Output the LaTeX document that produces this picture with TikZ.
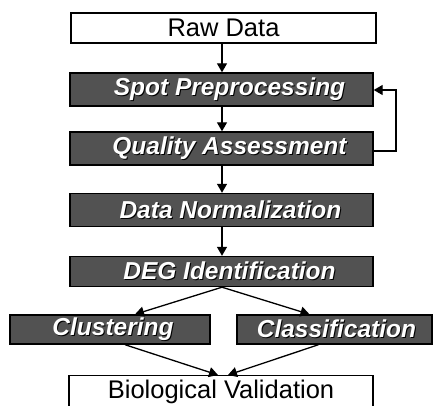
\documentclass[tikz,border=0pt]{standalone}
\usepackage{fontspec}
\setmainfont{Liberation Sans}
\usetikzlibrary{arrows.meta,positioning}
% white label with a thin dark drop shadow
\newcommand\shadowtxt[1]{\makebox[0pt][l]{\hspace{1pt}\raisebox{-1pt}{\color{black}#1}}#1}
\tikzset{
  x=1pt, y=-1pt,
  plainbox/.style={draw=black, line width=1.4pt, fill=white, inner sep=0pt,
    font=\fontsize{25.5}{28}\selectfont, text=black},
  darkbox/.style={draw=black, line width=1.4pt, fill=black!68, inner sep=0pt,
    font=\fontsize{24.5}{28}\selectfont\bfseries\itshape, text=white},
  flow/.style={draw=black, line width=1.3pt,
    -{Triangle[width=10pt,length=9pt]}},
}
\begin{document}
\begin{tikzpicture}
\useasboundingbox (0,0) rectangle (437,405);
% main pipeline
\node[plainbox, minimum width=305pt, minimum height=30pt] (raw) at (223.5,28) {Raw Data};
\node[darkbox, minimum width=303pt, minimum height=33pt] (spot) at (221.5,89.5) {\hspace*{16pt}\shadowtxt{Spot Preprocessing}};
\node[darkbox, minimum width=303pt, minimum height=33pt] (qa) at (221.5,148.5) {\hspace*{16pt}\shadowtxt{Quality Assessment}};
\node[darkbox, minimum width=303pt, minimum height=33pt] (norm) at (221.5,210) {\hspace*{18pt}\shadowtxt{Data Normalization}};
\node[darkbox, minimum width=303pt, minimum height=30pt] (deg) at (221.5,271.5) {\hspace*{16pt}\shadowtxt{DEG Identification}};
% two parallel analyses
\node[darkbox, minimum width=200pt, minimum height=29pt] (clu) at (110,329.5) {\hspace*{6pt}\shadowtxt{Clustering}};
\node[darkbox, minimum width=195pt, minimum height=29pt] (cla) at (334.5,329.5) {\hspace*{4pt}\shadowtxt{Classification}};
% final step (its lower edge runs off the page)
\node[plainbox, minimum width=304pt, minimum height=34pt, anchor=north] (bio) at (221,375) {\raisebox{6pt}{Biological Validation}};
% connectors
\draw[flow] (raw.south -| 222,0) -- (spot.north -| 222,0);
\draw[flow] (spot.south -| 222,0) -- (qa.north -| 222,0);
\draw[flow] (qa.south -| 222,0) -- (norm.north -| 222,0);
\draw[flow] (norm.south -| 222,0) -- (deg.north -| 222,0);
\draw[flow] (qa.east |- 0,151) -- (396,151) -- (396,90) -- (spot.east |- 0,90);
\draw[flow] (deg.south -| 222,0) -- ([xshift=25pt]clu.north);
\draw[flow] (deg.south -| 222,0) -- ([xshift=-25pt]cla.north);
\draw[flow] ([xshift=15pt]clu.south) -- ([xshift=-3pt]bio.north);
\draw[flow] ([xshift=-16pt]cla.south) -- ([xshift=7pt]bio.north);
\end{tikzpicture}
\end{document}
